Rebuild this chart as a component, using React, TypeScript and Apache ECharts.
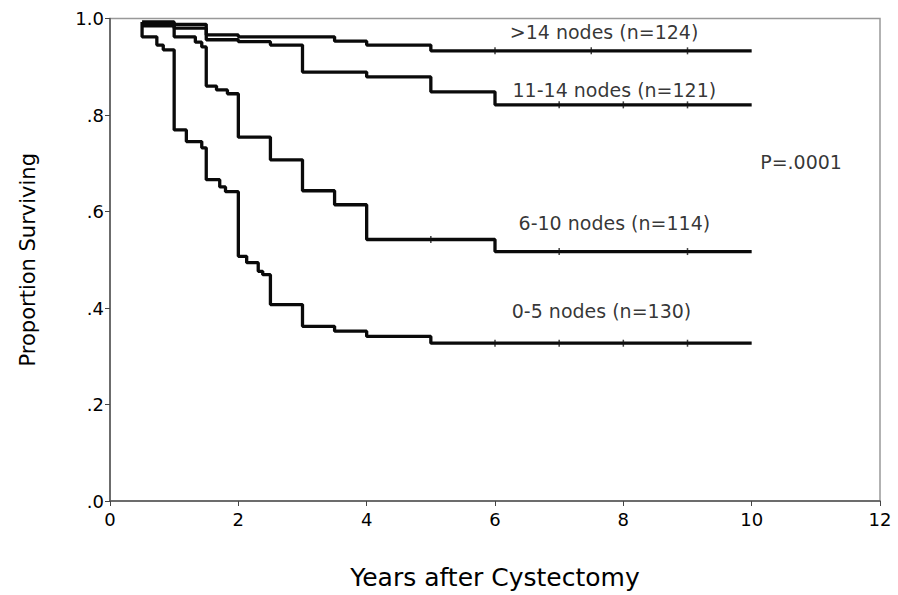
import React, { useEffect, useRef } from "react";
import * as echarts from "echarts";

// Kaplan-Meier step data (time in years, proportion surviving)
const timesOver14 = [0.5, 1.0, 1.5, 2.0, 3.5, 4.0, 5.0, 10.0];
const survOver14 = [0.993, 0.988, 0.966, 0.962, 0.953, 0.945, 0.933, 0.933];

const times11to14 = [0.5, 1.0, 1.5, 2.0, 2.5, 3.0, 4.0, 5.0, 6.0, 10.0];
const surv11to14 = [0.99, 0.98, 0.956, 0.952, 0.945, 0.889, 0.879, 0.848, 0.821, 0.821];

const times6to10 = [0.5, 1.0, 1.33, 1.43, 1.5, 1.66, 1.83, 2.0, 2.5, 3.0, 3.5, 4.0, 6.0, 10.0];
const surv6to10 = [0.985, 0.962, 0.951, 0.941, 0.86, 0.852, 0.844, 0.754, 0.707, 0.643, 0.614, 0.542, 0.517, 0.517];

const times0to5 = [0.5, 0.5, 0.73, 0.83, 1.0, 1.19, 1.43, 1.5, 1.71, 1.8, 2.0, 2.13, 2.31, 2.38, 2.5, 3.0, 3.5, 4.0, 5.0, 10.0];
const surv0to5 = [0.993, 0.962, 0.945, 0.935, 0.769, 0.745, 0.732, 0.666, 0.651, 0.641, 0.507, 0.494, 0.476, 0.469, 0.407, 0.362, 0.352, 0.341, 0.327, 0.327];

// censoring marks (years)
const censorOver14 = [6.0, 7.5, 9.0];
const censor11to14 = [7.0, 8.0, 9.0];
const censor6to10 = [5.0, 7.0, 9.0];
const censor0to5 = [6.0, 7.0, 8.0, 9.0];

const groupNames = [">14 nodes (n=124)", "11-14 nodes (n=121)", "6-10 nodes (n=114)", "0-5 nodes (n=130)"];
const pValueText = "P=.0001";

// annotation anchors in data units [years, proportion]
const annotationAnchors: [number, number][] = [
  [7.7, 0.972],
  [7.86, 0.852],
  [7.86, 0.577],
  [7.66, 0.393],
  [10.77, 0.703],
];

const xTicks = [0, 2, 4, 6, 8, 10, 12];

const FONT = "DejaVu Sans";

function pairs(t: number[], s: number[]) {
  return t.map((v, i) => [v, s[i]]);
}
function valueAt(t: number[], s: number[], x: number) {
  let v = s[0];
  for (let i = 0; i < t.length; i++) if (t[i] <= x) v = s[i];
  return v;
}

export default function App() {
  const ref = useRef<HTMLDivElement>(null);
  useEffect(() => {
    if (!ref.current) return;
    const chart = echarts.init(ref.current, undefined, { renderer: "svg" });
    const curves = [
      [timesOver14, survOver14, censorOver14],
      [times11to14, surv11to14, censor11to14],
      [times6to10, surv6to10, censor6to10],
      [times0to5, surv0to5, censor0to5],
    ] as [number[], number[], number[]][];

    const lineSeries = curves.map(([t, s], i) => ({
      type: "line",
      name: groupNames[i],
      data: pairs(t, s),
      step: "end",
      symbol: "none",
      lineStyle: { color: "#0a0a0a", width: 3.3 },
      z: 3,
    }));
    const censorSeries = curves.map(([t, s, c]) => ({
      type: "scatter",
      data: c.map((x) => [x, valueAt(t, s, x)]),
      symbol: "rect",
      symbolSize: [1.5, 7],
      itemStyle: { color: "#111" },
      z: 4,
    }));
    const labelTexts = [...groupNames, pValueText];
    const labelSeries = {
      type: "scatter",
      data: annotationAnchors.map((a, i) => ({ value: a, name: labelTexts[i] })),
      symbolSize: 1,
      itemStyle: { color: "rgba(0,0,0,0)" },
      label: {
        show: true,
        position: "inside",
        formatter: (p: any) => p.name,
        fontFamily: FONT,
        fontSize: 19,
        color: "#000",
      },
      silent: true,
      z: 5,
    };

    chart.setOption({
      animation: false,
      backgroundColor: "#fff",
      grid: {
        left: 110,
        right: 18,
        top: 18.5,
        bottom: 93,
        show: true,
        borderColor: "#999",
        borderWidth: 1.5,
      },
      xAxis: {
        type: "value",
        min: 0,
        max: 12,
        interval: 2,
        name: "Years after Cystectomy",
        nameLocation: "middle",
        nameGap: 64,
        nameTextStyle: { fontFamily: FONT, fontSize: 25, color: "#000" },
        axisLine: { lineStyle: { color: "#555", width: 1.5 } },
        axisTick: { show: true, length: 5, lineStyle: { color: "#444" } },
        axisLabel: {
          fontFamily: FONT,
          fontSize: 18,
          color: "#000",
          margin: 9,
          formatter: (v: number) => (xTicks.includes(v) ? String(v) : ""),
        },
        splitLine: { show: false },
      },
      yAxis: {
        type: "value",
        min: 0,
        max: 1,
        interval: 0.2,
        name: "Proportion Surviving",
        nameLocation: "middle",
        nameGap: 72,
        nameTextStyle: { fontFamily: FONT, fontSize: 21, color: "#000" },
        axisLine: { show: true, lineStyle: { color: "#555", width: 1.5 } },
        axisTick: { show: true, length: 5, lineStyle: { color: "#444" } },
        axisLabel: {
          fontFamily: FONT,
          fontSize: 18,
          color: "#000",
          margin: 6,
          formatter: (v: number) => (Math.abs(v - 1) < 1e-9 ? "1.0" : "." + Math.round(v * 10)),
        },
        splitLine: { show: false },
      },
      series: [...lineSeries, ...censorSeries, labelSeries],
    });
    return () => chart.dispose();
  }, []);
  return <div ref={ref} style={{ width: 898, height: 595, position: "absolute", left: 0, top: 0 }} />;
}
